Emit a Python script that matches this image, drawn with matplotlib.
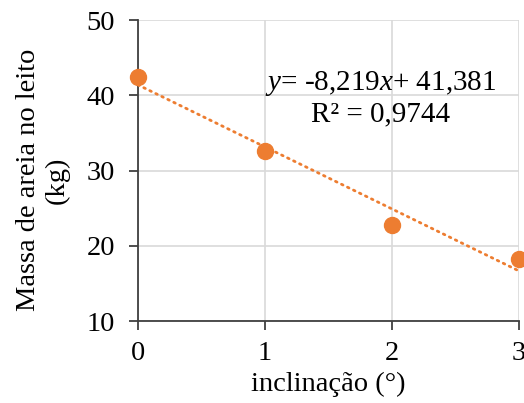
import matplotlib.pyplot as plt
import numpy as np

plt.rcParams['font.family'] = 'Liberation Serif'
plt.rcParams['mathtext.fontset'] = 'custom'
plt.rcParams['mathtext.rm'] = 'Liberation Serif'
plt.rcParams['mathtext.it'] = 'Liberation Serif:italic'

inclinacao = [0, 1, 2, 3]
massa = [42.5, 32.6, 22.8, 18.3]
y_ticks = [10, 20, 30, 40, 50]
x_ticks = [0, 1, 2, 3]

orange = '#ED7D31'

fig = plt.figure(figsize=(5.24, 4.03), dpi=100)
ax = fig.add_axes([0.263, 0.203, 0.727, 0.747])

# trendline (linear fit)
coef = np.polyfit(inclinacao, massa, 1)
xs = np.array([inclinacao[0], inclinacao[-1]])
ax.plot(xs, np.polyval(coef, xs), color=orange, lw=2,
        linestyle=(0, (0.6, 1.8)), dash_capstyle='round', zorder=3)

ax.plot(inclinacao, massa, 'o', color=orange, markersize=11.5,
        clip_on=False, zorder=4)

ax.set_xlim(0, 3)
ax.set_ylim(10, 50)
ax.set_xticks(x_ticks)
ax.set_yticks(y_ticks)
ax.grid(True, color='#D9D9D9', lw=1.2)
ax.set_axisbelow(True)
for s in ['top', 'right']:
    ax.spines[s].set_visible(False)
for s in ['left', 'bottom']:
    ax.spines[s].set_color('#404040')
    ax.spines[s].set_linewidth(1.3)
ax.tick_params(direction='out', length=6.5, width=1.3, color='#404040',
               labelsize=20.5)
ax.tick_params(axis='x', pad=8)
ax.tick_params(axis='y', pad=10)

ax.set_xlabel('inclinação (°)', fontsize=20.5, labelpad=4)
ax.set_ylabel('Massa de areia no leito\n(kg)', fontsize=20.5,
              linespacing=1.2)
ax.yaxis.set_label_coords(-0.178, 0.468)

ax.text(1.91, 41.6, '$y$= -8,219$x$+ 41,381', fontsize=21,
        ha='center', va='center')
ax.text(1.91, 37.5, 'R² = 0,9744', fontsize=21, ha='center', va='center')

fig.savefig('out.png', dpi=100)
